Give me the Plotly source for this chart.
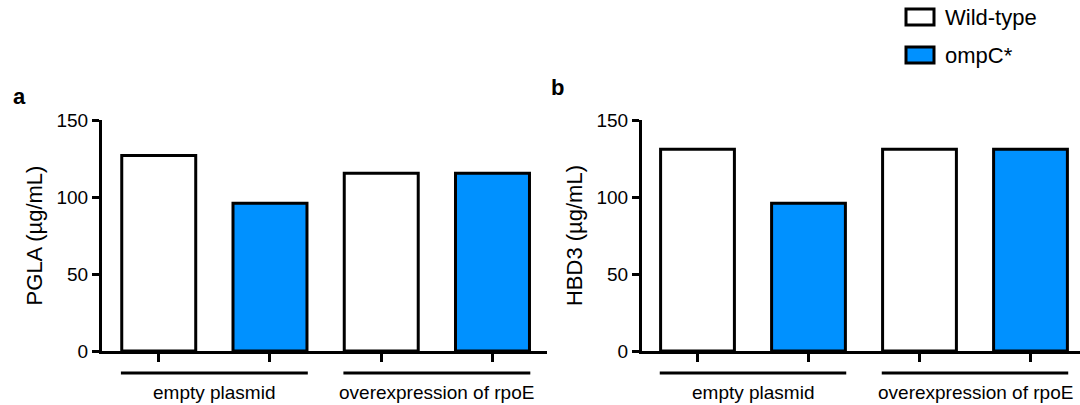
import plotly.graph_objects as go

# ---- data ----
groups = ["empty plasmid", "overexpression of rpoE"]
genotypes = ["Wild-type", "ompC*"]
categories = ["empty plasmid|Wild-type", "empty plasmid|ompC*",
              "overexpression of rpoE|Wild-type", "overexpression of rpoE|ompC*"]
pgla_wt = [127, 115.5]
pgla_ompc = [96, 115.5]
hbd3_wt = [131, 131]
hbd3_ompc = [96, 131]
y_ticks = [0, 50, 100, 150]
panel_titles = ["PGLA (µg/mL)", "HBD3 (µg/mL)"]
panel_letters = ["a", "b"]

FONT = "Arial, 'Liberation Sans', Helvetica, sans-serif"
BLUE = "#0091FF"
colors = {"Wild-type": "white", "ompC*": BLUE}

fig = go.Figure()

panels = [
    ("x", "y", {"Wild-type": pgla_wt, "ompC*": pgla_ompc}),
    ("x2", "y2", {"Wild-type": hbd3_wt, "ompC*": hbd3_ompc}),
]
for xa, ya, vals in panels:
    for g in genotypes:
        xs = [f"{grp}|{g}" for grp in groups]
        fig.add_trace(go.Bar(
            x=xs, y=vals[g], name=g, xaxis=xa, yaxis=ya,
            marker=dict(color=colors[g], line=dict(color="black", width=3)),
            showlegend=False,
        ))

axis_common_x = dict(
    type="category", categoryorder="array", categoryarray=categories,
    showline=True, linewidth=3, linecolor="black", showgrid=False,
    zeroline=False, ticks="outside", ticklen=8, tickwidth=3, tickcolor="black",
    showticklabels=False,
)
axis_common_y = dict(
    range=[0, 150], tickvals=y_ticks, showline=True, linewidth=3,
    linecolor="black", showgrid=False, zeroline=False, ticks="outside",
    ticklen=7, tickwidth=3, tickcolor="black",
    tickfont=dict(family=FONT, size=19, color="black"),
)

fig.update_layout(
    width=1080, height=405,
    margin=dict(l=0, r=0, t=120, b=54),
    paper_bgcolor="white", plot_bgcolor="white",
    barmode="overlay", bargap=0.335,
    font=dict(family=FONT, size=19, color="black"),
    showlegend=False,
    xaxis=dict(domain=[102 / 1080, 547 / 1080], range=[-0.51, 3.49], anchor="y", **axis_common_x),
    xaxis2=dict(domain=[642 / 1080, 1.0], range=[-0.5, 3.446], anchor="y2", **axis_common_x),
    yaxis=dict(anchor="x", title=dict(text=panel_titles[0], standoff=8,
               font=dict(family=FONT, size=22)), **axis_common_y),
    yaxis2=dict(anchor="x2", title=dict(text=panel_titles[1], standoff=8,
                font=dict(family=FONT, size=22)), **axis_common_y),
)

# group brackets and labels
for xref in ["x", "x2"]:
    for gi, grp in enumerate(groups):
        i0 = categories.index(f"{grp}|Wild-type")
        i1 = categories.index(f"{grp}|ompC*")
        fig.add_shape(type="line", xref=xref, yref="paper",
                      x0=i0 - 0.34, x1=i1 + 0.34, y0=-0.095, y1=-0.095,
                      line=dict(color="black", width=3))
        fig.add_annotation(xref=xref, yref="paper", x=(i0 + i1) / 2, y=-0.178,
                           text=grp, showarrow=False, yanchor="middle",
                           font=dict(family=FONT, size=19, color="black"))

# panel letters
fig.add_annotation(xref="paper", yref="paper", x=11 / 1080, y=(351 - 96) / 231,
                   text=f"<b>{panel_letters[0]}</b>", showarrow=False,
                   xanchor="left", yanchor="middle", font=dict(family=FONT, size=22))
fig.add_annotation(xref="paper", yref="paper", x=549 / 1080, y=(351 - 87) / 231,
                   text=f"<b>{panel_letters[1]}</b>", showarrow=False,
                   xanchor="left", yanchor="middle", font=dict(family=FONT, size=22))

# legend (drawn manually)
leg_y = [17, 55]
for g, cy in zip(genotypes, leg_y):
    fig.add_shape(type="rect", xref="paper", yref="paper",
                  x0=906 / 1080, x1=934 / 1080,
                  y0=(351 - cy - 8) / 231, y1=(351 - cy + 8) / 231,
                  fillcolor=colors[g], line=dict(color="black", width=3))
    fig.add_annotation(xref="paper", yref="paper", x=943 / 1080, y=(351 - cy) / 231,
                       text=g, showarrow=False, xanchor="left", yanchor="middle",
                       font=dict(family=FONT, size=22, color="black"))

fig.write_html("out.html")
